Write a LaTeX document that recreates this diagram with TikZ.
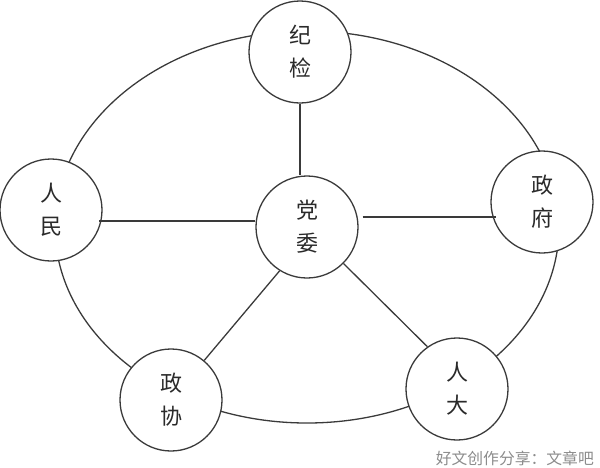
\documentclass[tikz,border=0pt]{standalone}
\usepackage{fontspec}
\newfontfamily\cjk{Noto Sans CJK SC}
\usetikzlibrary{backgrounds}
\definecolor{linecol}{HTML}{3A3A3A}
\definecolor{textcol}{HTML}{2A2A2A}
\definecolor{wmcol}{HTML}{8C8C8C}
\begin{document}
\begin{tikzpicture}[x=1pt,y=-1pt,
  org/.style={circle,draw=linecol,line width=1.3pt,fill=white,minimum size=102pt,inner sep=0pt,
    font=\cjk\fontsize{22}{33}\selectfont,text=textcol,align=center},
  link/.style={draw=linecol,line width=1.3pt}]
\useasboundingbox (0,0) rectangle (600,467);
\node[org] (jj) at (300,52) {纪\\检};
\node[org] (rm) at (51,210) {人\\民};
\node[org] (zf) at (542,202) {政\\府};
\node[org] (dw) at (307,227) {党\\委};
\node[org] (zx) at (171,400) {政\\协};
\node[org] (rd) at (457,389) {人\\大};
\begin{scope}[on background layer]
  \draw[link] (dw.center) ellipse [x radius=252pt, y radius=196pt];
\end{scope}
\draw[link] (jj.south) -- (jj.south |- dw.north);
\draw[link] ([yshift=6pt]dw.west) -- ([yshift=6pt,xshift=-4pt]dw.west -| rm.east);
\draw[link] ([xshift=4pt,yshift=10pt]dw.east) -- ([xshift=6pt,yshift=10pt]dw.east -| zf.west);
\draw[link] (dw.238) -- (zx.50);
\draw[link] (dw.-45) -- (rd.125);
\node[font=\cjk\fontsize{15.8}{16}\selectfont,text=wmcol,anchor=east,inner sep=0pt] (wm) at (594,458) {好文创作分享：文章吧};
\end{tikzpicture}
\end{document}
